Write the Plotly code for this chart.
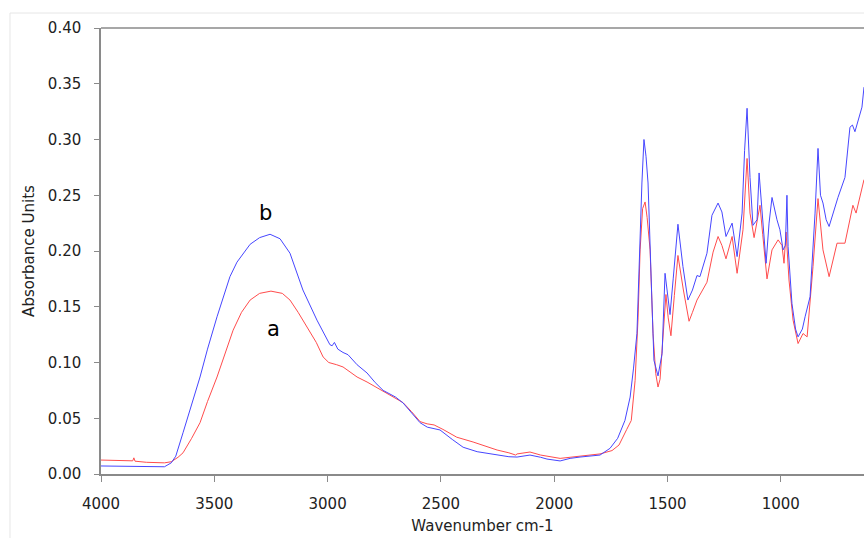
import plotly.graph_objects as go

# Spectrum b (blue)
wn_b = [4000, 3900, 3800, 3720, 3690, 3670, 3638, 3600, 3563, 3530, 3488, 3431, 3400, 3342, 3300,
        3254, 3210, 3166, 3109, 3047, 2990, 2980, 2970, 2955, 2932, 2910, 2870, 2826, 2790, 2755,
        2700, 2667, 2630, 2592, 2560, 2504, 2450, 2402, 2340, 2252, 2200, 2164, 2107, 2060, 2032,
        1974, 1930, 1886, 1798, 1754, 1720, 1688, 1665, 1650, 1635, 1613, 1604, 1595, 1586, 1569,
        1560, 1542, 1524, 1511, 1500, 1489, 1475, 1454, 1432, 1410, 1390, 1370, 1357, 1340, 1326,
        1304, 1277, 1260, 1242, 1215, 1193, 1171, 1160, 1149, 1136, 1123, 1105, 1096, 1083, 1065,
        1052, 1039, 1017, 1004, 990, 980, 973, 968, 951, 935, 924, 905, 893, 871, 849,
        836, 825, 814, 800, 787, 748, 717, 695, 684, 673, 642, 633]
abs_b = [0.0072, 0.0068, 0.0065, 0.0065, 0.010, 0.016, 0.037, 0.062, 0.087, 0.112, 0.141, 0.177, 0.190, 0.206, 0.212,
         0.215, 0.211, 0.198, 0.165, 0.138, 0.116, 0.115, 0.118, 0.112, 0.109, 0.107, 0.098, 0.0906, 0.082, 0.075,
         0.069, 0.0637, 0.055, 0.046, 0.042, 0.0395, 0.031, 0.024, 0.020, 0.017, 0.0155, 0.0152, 0.017, 0.015, 0.0134,
         0.0117, 0.014, 0.0152, 0.017, 0.023, 0.032, 0.048, 0.069, 0.095, 0.126, 0.261, 0.300, 0.285, 0.261, 0.156,
         0.102, 0.088, 0.108, 0.180, 0.160, 0.143, 0.175, 0.224, 0.186, 0.156, 0.165, 0.178, 0.177, 0.188, 0.198,
         0.232, 0.243, 0.235, 0.213, 0.225, 0.195, 0.234, 0.290, 0.328, 0.266, 0.223, 0.228, 0.270, 0.234, 0.189,
         0.225, 0.248, 0.228, 0.219, 0.201, 0.205, 0.250, 0.204, 0.153, 0.130, 0.123, 0.130, 0.141, 0.159, 0.234,
         0.292, 0.250, 0.243, 0.228, 0.222, 0.248, 0.266, 0.311, 0.313, 0.307, 0.329, 0.347]

# Spectrum a (red)
wn_a = [4000, 3900, 3860, 3855, 3850, 3800, 3720, 3690, 3660, 3638, 3600, 3563, 3530, 3488, 3450,
        3417, 3380, 3342, 3300, 3250, 3200, 3166, 3130, 3091, 3050, 3020, 2995, 2960, 2932, 2901,
        2870, 2826, 2780, 2738, 2700, 2667, 2630, 2592, 2561, 2530, 2491, 2430, 2358, 2300, 2252,
        2200, 2170, 2164, 2107, 2060, 2032, 1974, 1930, 1886, 1798, 1745, 1714, 1680, 1660, 1643,
        1630, 1621, 1610, 1599, 1590, 1577, 1564, 1552, 1542, 1533, 1524, 1507, 1497, 1485, 1470,
        1454, 1430, 1405, 1390, 1370, 1326, 1299, 1277, 1260, 1242, 1215, 1193, 1167, 1149, 1136,
        1118, 1092, 1080, 1061, 1039, 1012, 995, 986, 977, 964, 946, 924, 902, 884, 858,
        836, 814, 787, 752, 717, 682, 668, 633]
abs_a = [0.0125, 0.012, 0.0118, 0.0145, 0.0115, 0.0105, 0.010, 0.011, 0.015, 0.019, 0.032, 0.046, 0.065, 0.087, 0.110,
         0.129, 0.145, 0.156, 0.162, 0.164, 0.162, 0.156, 0.145, 0.132, 0.118, 0.105, 0.100, 0.098, 0.096, 0.0915,
         0.087, 0.0825, 0.077, 0.0726, 0.068, 0.064, 0.056, 0.047, 0.045, 0.044, 0.040, 0.033, 0.0287, 0.025, 0.0215,
         0.019, 0.017, 0.018, 0.0197, 0.017, 0.016, 0.014, 0.015, 0.016, 0.018, 0.021, 0.026, 0.040, 0.048, 0.084,
         0.140, 0.201, 0.238, 0.244, 0.230, 0.201, 0.126, 0.090, 0.078, 0.085, 0.111, 0.161, 0.140, 0.124, 0.160,
         0.196, 0.165, 0.137, 0.145, 0.156, 0.172, 0.199, 0.213, 0.205, 0.193, 0.213, 0.180, 0.219, 0.283, 0.234,
         0.212, 0.241, 0.215, 0.175, 0.201, 0.210, 0.205, 0.189, 0.217, 0.174, 0.138, 0.117, 0.126, 0.123, 0.186,
         0.247, 0.201, 0.177, 0.207, 0.207, 0.241, 0.234, 0.264]

y_ticks = [0.00, 0.05, 0.10, 0.15, 0.20, 0.25, 0.30, 0.35, 0.40]
x_ticks = [4000, 3500, 3000, 2500, 2000, 1500, 1000]

FONT = "DejaVu Sans, Arial, sans-serif"

fig = go.Figure()
fig.add_trace(go.Scatter(x=wn_a, y=abs_a, mode="lines", line=dict(color="#ff4c4c", width=1), name="a"))
fig.add_trace(go.Scatter(x=wn_b, y=abs_b, mode="lines", line=dict(color="#4646ff", width=1), name="b"))

fig.add_annotation(x=3272, y=0.234, text="b", showarrow=False, font=dict(size=21, color="black", family=FONT))
fig.add_annotation(x=3241, y=0.130, text="a", showarrow=False, font=dict(size=21, color="black", family=FONT))

# faint outer frame
fig.add_shape(type="rect", xref="paper", yref="paper", x0=-0.1193, x1=1.05, y0=-0.3, y1=1.0336,
              line=dict(color="#e6e6e6", width=1), layer="below")

fig.update_layout(
    width=864, height=538,
    margin=dict(l=101, r=0, t=28, b=64),
    paper_bgcolor="white", plot_bgcolor="white",
    showlegend=False,
    font=dict(family=FONT, size=15, color="#222222"),
    xaxis=dict(
        range=[4000, 633], tickvals=x_ticks, ticktext=[str(v) for v in x_ticks],
        showgrid=False, zeroline=False, showline=True, linecolor="#8a8a8a", linewidth=1.5,
        ticks="outside", ticklen=6, tickcolor="#8a8a8a", mirror=False,
        title=dict(text="Wavenumber cm-1", standoff=9, font=dict(size=15)),
        tickfont=dict(size=15), ticklabelstandoff=9,
    ),
    yaxis=dict(
        range=[0, 0.40], tickvals=y_ticks, ticktext=["%.2f" % v for v in y_ticks],
        showgrid=False, zeroline=False, showline=True, linecolor="#8a8a8a", linewidth=1.5,
        ticks="outside", ticklen=5, tickcolor="#8a8a8a",
        title=dict(text="Absorbance Units", standoff=10, font=dict(size=15)),
        tickfont=dict(size=15), ticklabelstandoff=10,
    ),
)
# top frame line
fig.add_shape(type="line", xref="paper", yref="paper", x0=0, x1=1, y0=1, y1=1,
              line=dict(color="#8a8a8a", width=1.5))

fig.write_html(
    "out.html",
    config={"displayModeBar": False},
    post_script="document.body.style.margin='0';document.body.style.overflow='hidden';",
)
